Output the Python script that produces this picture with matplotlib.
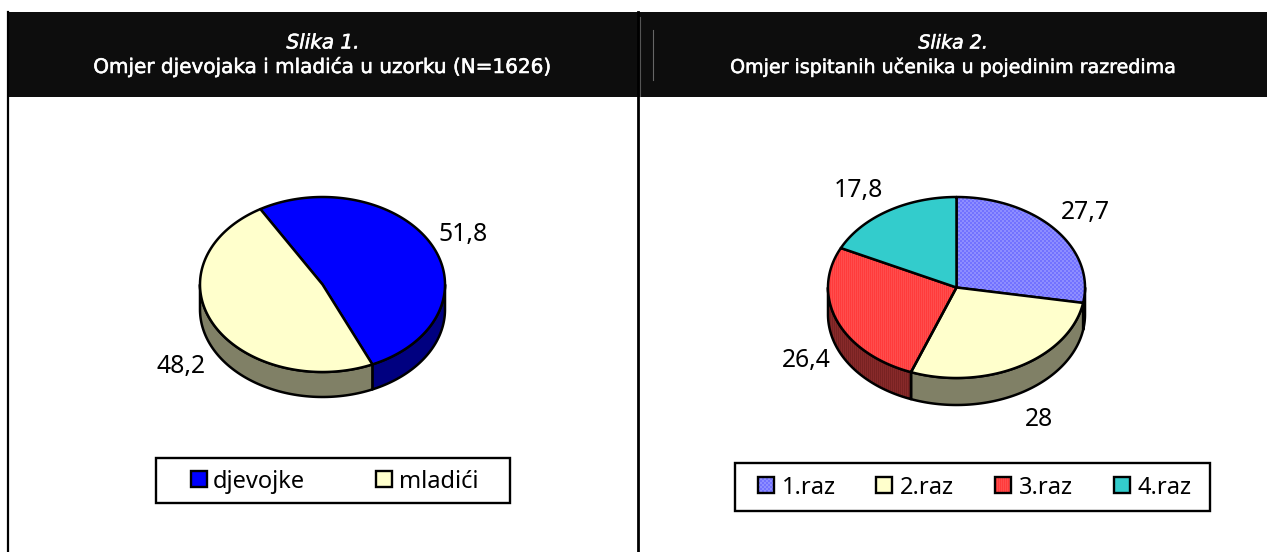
# -*- coding: utf-8 -*-
"""Two 3D-looking pie panels under a black header bar."""

import numpy as np

import matplotlib
matplotlib.use("Agg")
import matplotlib.pyplot as plt
from matplotlib.colors import to_rgb
from matplotlib.patches import Polygon, Rectangle
from matplotlib import patheffects


WIDTH, HEIGHT = 1267, 552

TITLE_1 = "Omjer djevojaka i mladića u uzorku (N=1626)"
TITLE_2 = "Omjer ispitanih učenika u pojedinim razredima"
CAPTION_1 = "Slika 1."
CAPTION_2 = "Slika 2."

CATEGORIES_1 = ["djevojke", "mladići"]
VALUES_1 = [51.8, 48.2]
VALUE_TEXT_1 = ["51,8", "48,2"]

CATEGORIES_2 = ["1.raz", "2.raz", "3.raz", "4.raz"]
VALUES_2 = [27.7, 28.0, 26.4, 17.8]
VALUE_TEXT_2 = ["27,7", "28", "26,4", "17,8"]

TOP_COLORS_1 = ["#0000FF", "#FFFFCC"]
SIDE_COLORS_1 = ["#000080", "#808066"]
TOP_COLORS_2 = ["#8080FF", "#FFFFCC", "#FF4444", "#33CCCC"]
SIDE_COLORS_2 = ["#404080", "#808066", "#802626", "#1A6666"]
# two-tone dither used by the patterned slices
DITHER = {
    "#8080FF": ("#7272FF", "#8E8EFF", "check"),
    "#FF4444": ("#FF3B3B", "#FF4D4D", "stripe"),
    "#802626": ("#782222", "#882A2A", "stripe"),
}

FONT = "Noto Sans"
HEAD_FONT = "DejaVu Sans"
LABEL_SIZE = 17.8
LEGEND_SIZE = 17.0
HEAD_SIZE_1 = 14.4
HEAD_SIZE_2 = 13.7
EDGE = 1.8


def dither_image(color):
    c0, c1, kind = DITHER[color]
    yy, xx = np.mgrid[0:HEIGHT, 0:WIDTH]
    if kind == "check":
        mask = ((xx // 2 + yy // 2) % 2).astype(bool)
    else:
        mask = (xx % 2).astype(bool)
    img = np.empty((HEIGHT, WIDTH, 3))
    img[~mask] = to_rgb(c0)
    img[mask] = to_rgb(c1)
    return img


def add_shape(ax, patch, color):
    ax.add_patch(patch)
    if color in DITHER:
        im = ax.imshow(dither_image(color), extent=(0, WIDTH, HEIGHT, 0), aspect="auto",
                       interpolation="nearest", zorder=patch.get_zorder() - 0.5)
        im.set_clip_path(patch)
        patch.set_facecolor("none")
        ax.set_xlim(0, WIDTH)
        ax.set_ylim(HEIGHT, 0)


def ellipse(cx, cy, rx, ry, deg):
    rad = np.radians(deg)
    return cx + rx * np.sin(rad), cy - ry * np.cos(rad)


def draw_pie(ax, values, tops, sides, cx, cy, rx, ry, depth, start):
    fracs = np.array(values) / sum(values) * 360.0
    edges = start + np.concatenate([[0.0], np.cumsum(fracs)])
    for a0, a1, top, side in zip(edges[:-1], edges[1:], tops, sides):
        # wall only shows on the front half of the disc
        lo, hi = max(a0, 90.0), min(a1, 270.0)
        if hi > lo:
            t = np.linspace(lo, hi, 80)
            xs, ys = ellipse(cx, cy, rx, ry, t)
            wall = np.column_stack([
                np.concatenate([xs, xs[::-1]]),
                np.concatenate([ys, ys[::-1] + depth]),
            ])
            add_shape(ax, Polygon(wall, closed=True, fc=side, ec="black", lw=EDGE, joinstyle="round", zorder=2), side)
        t = np.linspace(a0, a1, 160)
        xs, ys = ellipse(cx, cy, rx, ry, t)
        face = np.column_stack([np.r_[cx, xs], np.r_[cy, ys]])
        add_shape(ax, Polygon(face, closed=True, fc=top, ec="black", lw=EDGE, joinstyle="round", zorder=3), top)


def draw_legend(ax, box, names, colors, swatch_x, text_x, swatch_y):
    x0, y0, x1, y1 = box
    ax.add_patch(Rectangle((x0, y0), x1 - x0, y1 - y0, fc="white", ec="black", lw=1.7, zorder=1.5))
    for name, color, sx, tx in zip(names, colors, swatch_x, text_x):
        add_shape(ax, Rectangle((sx, swatch_y), 16, 16, fc=color, ec="black", lw=1.7, zorder=3), color)
        ax.text(tx, swatch_y + 8, name, fontsize=LEGEND_SIZE, family=FONT, ha="left", va="center_baseline", zorder=3)


def main():
    fig = plt.figure(figsize=(WIDTH / 100, HEIGHT / 100), dpi=100)
    ax = fig.add_axes([0, 0, 1, 1])
    ax.set_xlim(0, WIDTH)
    ax.set_ylim(HEIGHT, 0)
    ax.axis("off")

    # header bar and the cell borders
    ax.add_patch(Rectangle((7, 12), WIDTH - 7, 85, fc="#0D0D0D", ec="none", zorder=1))
    ax.plot([8, 8], [12, HEIGHT], color="black", lw=1.6, zorder=1)
    ax.plot([638, 638], [12, HEIGHT], color="black", lw=2.0, zorder=1)
    ax.plot([639.5, 639.5], [17, 96], color="#555555", lw=0.8, zorder=1)
    ax.plot([652.5, 652.5], [30, 80], color="#666666", lw=0.8, zorder=1)

    thick = [patheffects.withStroke(linewidth=0.4, foreground="white")]
    heads = [(323, CAPTION_1, TITLE_1, HEAD_SIZE_1), (953, CAPTION_2, TITLE_2, HEAD_SIZE_2)]
    for xc, cap, title, size in heads:
        ax.text(xc, 43, cap, color="white", family=HEAD_FONT, style="italic", fontsize=size,
                ha="center", va="center", path_effects=thick)
        ax.text(xc, 67, title, color="white", family=HEAD_FONT, fontsize=size,
                ha="center", va="center", path_effects=thick)

    draw_pie(ax, VALUES_1, TOP_COLORS_1, SIDE_COLORS_1, 322.5, 284.5, 122.5, 87.5, 25, -30.5)
    draw_pie(ax, VALUES_2, TOP_COLORS_2, SIDE_COLORS_2, 956.5, 287.5, 128.5, 90.5, 27, 0)

    for text, (x, y) in zip(VALUE_TEXT_1, [(463, 232), (181, 363)]):
        ax.text(x, y, text, fontsize=LABEL_SIZE, family=FONT, ha="center", va="center_baseline", zorder=4)
    for text, (x, y) in zip(VALUE_TEXT_2, [(1085, 209), (1039, 417), (806, 358), (858, 187)]):
        ax.text(x, y, text, fontsize=LABEL_SIZE, family=FONT, ha="center", va="center_baseline", zorder=4)

    draw_legend(ax, (156, 458, 510, 503), CATEGORIES_1, TOP_COLORS_1, [191, 376], [213, 399], 471)
    draw_legend(ax, (735, 463, 1210, 511), CATEGORIES_2, TOP_COLORS_2, [758, 876, 995, 1114], [782, 900, 1019, 1137], 477)

    fig.savefig("out.png", dpi=100)
    plt.close(fig)


if __name__ == "__main__":
    main()
